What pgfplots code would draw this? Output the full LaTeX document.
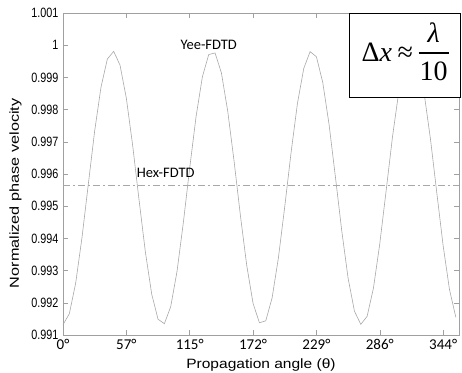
\documentclass[border=0pt]{standalone}
\usepackage{pgfplots}
\pgfplotsset{compat=1.18}
\usepackage{fontspec}
\setmainfont{Liberation Sans}
\newfontfamily\calib{Carlito}
\newfontfamily\tnr{Liberation Serif}
\newfontfamily\ytf{Liberation Sans}[FakeStretch=0.8]
\newfontfamily\ylf{Liberation Sans}[FakeStretch=1.25]
\newfontfamily\xlf{Liberation Sans}[FakeStretch=1.15]
\definecolor{linegray}{HTML}{A8A8A8}
\definecolor{axgray}{HTML}{A0A0A0}
\begin{document}
\begin{tikzpicture}
\begin{axis}[
  name=ax,
  at={(0,0)}, anchor=south west,
  scale only axis,
  width=396pt, height=322pt,
  xmin=0, xmax=6.25,
  ymin=0.991, ymax=1.001,
  axis line style={axgray, line width=0.6pt},
  tick style={axgray, line width=0.6pt},
  major tick length=5pt,
  tick align=inside,
  xtick={0,1,2,3,4,5,6},
  xticklabels={0°,57°,115°,172°,229°,286°,344°},
  ytick={0.991,0.992,0.993,0.994,0.995,0.996,0.997,0.998,0.999,1,1.001},
  yticklabels={0.991,0.992,0.993,0.994,0.995,0.996,0.997,0.998,0.999,1,1.001},
  xticklabel style={font=\calib\fontsize{15}{15}\selectfont, yshift=-1pt},
  yticklabel style={font=\ytf\fontsize{13.5}{14}\selectfont, xshift=-1pt},
  xlabel={Propagation angle (θ)},
  xlabel style={font=\xlf\fontsize{13.5}{13.5}\selectfont, yshift=-2pt},
  ylabel={Normalized phase velocity},
  ylabel style={font=\ylf\fontsize{13}{13}\selectfont, at={(ticklabel cs:0.44)}, yshift=3pt},
  clip=false,
]
\addplot[linegray, line width=0.6pt] coordinates {
(0.0,0.99132)(0.1,0.99166)(0.2,0.99261)(0.3,0.99403)(0.4,0.99569)(0.5,0.99734)(0.6,0.99870)(0.7,0.99957)(0.8,0.99981)(0.9,0.99938)
(1.0,0.99835)(1.1,0.99688)(1.2,0.99520)(1.3,0.99358)(1.4,0.99227)(1.5,0.99149)(1.6,0.99135)(1.7,0.99188)(1.8,0.99298)(1.9,0.99450)
(2.0,0.99619)(2.1,0.99778)(2.2,0.99902)(2.3,0.99971)(2.4,0.99976)(2.5,0.99914)(2.6,0.99795)(2.7,0.99640)(2.8,0.99471)(2.9,0.99316)
(3.0,0.99198)(3.1,0.99138)(3.2,0.99144)(3.3,0.99215)(3.4,0.99340)(3.5,0.99499)(3.6,0.99667)(3.7,0.99819)(3.8,0.99928)(3.9,0.99980)
(4.0,0.99964)(4.1,0.99884)(4.2,0.99753)(4.3,0.99590)(4.4,0.99423)(4.5,0.99276)(4.6,0.99174)(4.7,0.99133)(4.8,0.99158)(4.9,0.99246)
(5.0,0.99384)(5.1,0.99548)(5.2,0.99715)(5.3,0.99856)(5.4,0.99950)(5.5,0.99982)(5.6,0.99947)(5.7,0.99850)(5.8,0.99708)(5.9,0.99541)
(6.0,0.99377)(6.1,0.99241)(6.2,0.99155)
};
\addplot[linegray, line width=0.6pt, dash pattern=on 7pt off 3pt on 2pt off 3pt] coordinates {
(0.0,0.99566)(1.0,0.99566)(2.0,0.99566)(3.0,0.99566)(4.0,0.99566)(5.0,0.99566)(6.25,0.99566)
};
\node[font=\calib\fontsize{14.5}{15}\selectfont] at (axis cs:2.3,1.00001) {Yee-FDTD};
\node[font=\calib\fontsize{14.5}{15}\selectfont] at (axis cs:1.62,0.99603) {Hex-FDTD};
\node[draw=black, line width=0.8pt, fill=white, anchor=north east, minimum width=111pt, minimum height=84pt, inner sep=0pt,
  font=\tnr\fontsize{28}{30}\selectfont] at (rel axis cs:1.005,1.0)
  {Δ\textit{x}\hspace{0.2em}≈\hspace{0.2em}$\vcenter{\hbox{\setlength{\arrayrulewidth}{1.2pt}\begin{tabular}{@{\hspace{1pt}}c@{\hspace{1pt}}}\textit{λ}\\[1pt]\hline\rule{0pt}{27pt}10\end{tabular}}}$};
\end{axis}
\pgfresetboundingbox
\path ([shift={(-63pt,-38pt)}]ax.south west) rectangle ([shift={(3pt,13pt)}]ax.north east);
\end{tikzpicture}
\end{document}
